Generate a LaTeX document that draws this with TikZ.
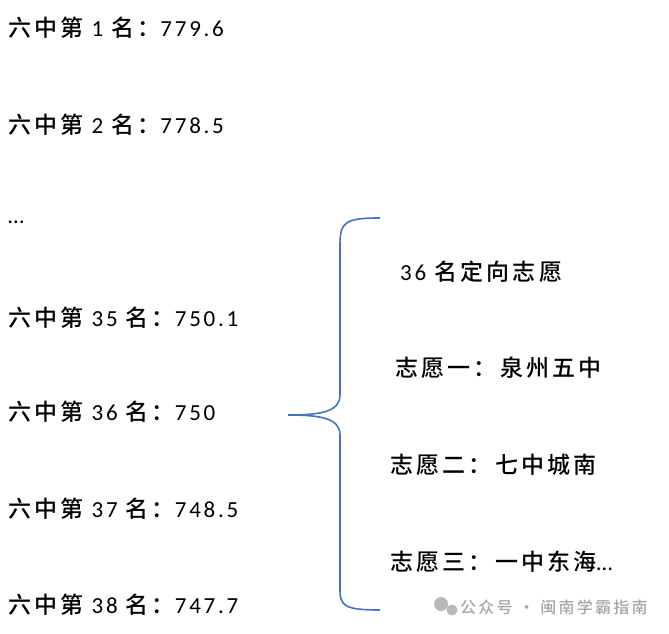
\documentclass[tikz,border=0pt]{standalone}
\usepackage{fontspec}
\setmainfont{Carlito}[LetterSpace=12]
\newfontfamily\cjk{Noto Sans CJK SC Medium}[LetterSpace=14]
\definecolor{braceblue}{HTML}{4472C4}
\usetikzlibrary{positioning}
\begin{document}
\begin{tikzpicture}[x=1pt,y=-1pt,
    rank/.style={anchor=west, inner sep=0, font=\fontsize{23}{27}\selectfont},
    choice/.style={anchor=west, inner sep=0, font=\fontsize{23}{27}\selectfont},
    brace/.style={draw=braceblue, line width=1.6pt}]
\useasboundingbox (0,0) rectangle (669,634);
\newcommand{\zh}[1]{{\cjk #1}}
% left column
\node[rank] (r1) at (8,28) {\zh{六中第} 1 \zh{名：}779.6};
\node[rank] (r2) at (8,125) {\zh{六中第} 2 \zh{名：}778.5};
\node[rank] (dots) at (8,222) {…};
\node[rank] (r35) at (8,318) {\zh{六中第} 35 \zh{名：}750.1};
\node[rank] (r36) at (8,412) {\zh{六中第} 36 \zh{名：}750};
\node[rank] (r37) at (8,509) {\zh{六中第} 37 \zh{名：}748.5};
\node[rank] (r38) at (8,605) {\zh{六中第} 38 \zh{名：}747.7};
% brace
\coordinate (btop) at (380,218);
\coordinate (btip) at (288,415);
\coordinate (bbot) at (380,610);
\path[brace] (btop) .. controls (345,218) and (340,222) .. (340,245)
  -- (340,395) .. controls (340,412) and (320,415) .. (btip)
  .. controls (320,415) and (340,418) .. (340,435)
  -- (340,590) .. controls (340,606) and (345,610) .. (bbot);
% right column
\node[choice] (c0) at (400,272) {36 \zh{名定向志愿}};
\node[choice] (c1) at (395,368) {\zh{志愿一：泉州五中}};
\node[choice] (c2) at (390,465) {\zh{志愿二：七中城南}};
\node[choice] (c3) at (390,562) {\zh{志愿三：一中东海}…};
% watermark
\node[anchor=west, inner sep=0, text=gray!70, font=\fontsize{16}{18}\selectfont\cjk] (wm) at (460,607) {公众号 · 闽南学霸指南};
\fill[gray!55] (441,604) circle (7) (452,610) circle (5.5);
\end{tikzpicture}
\end{document}
